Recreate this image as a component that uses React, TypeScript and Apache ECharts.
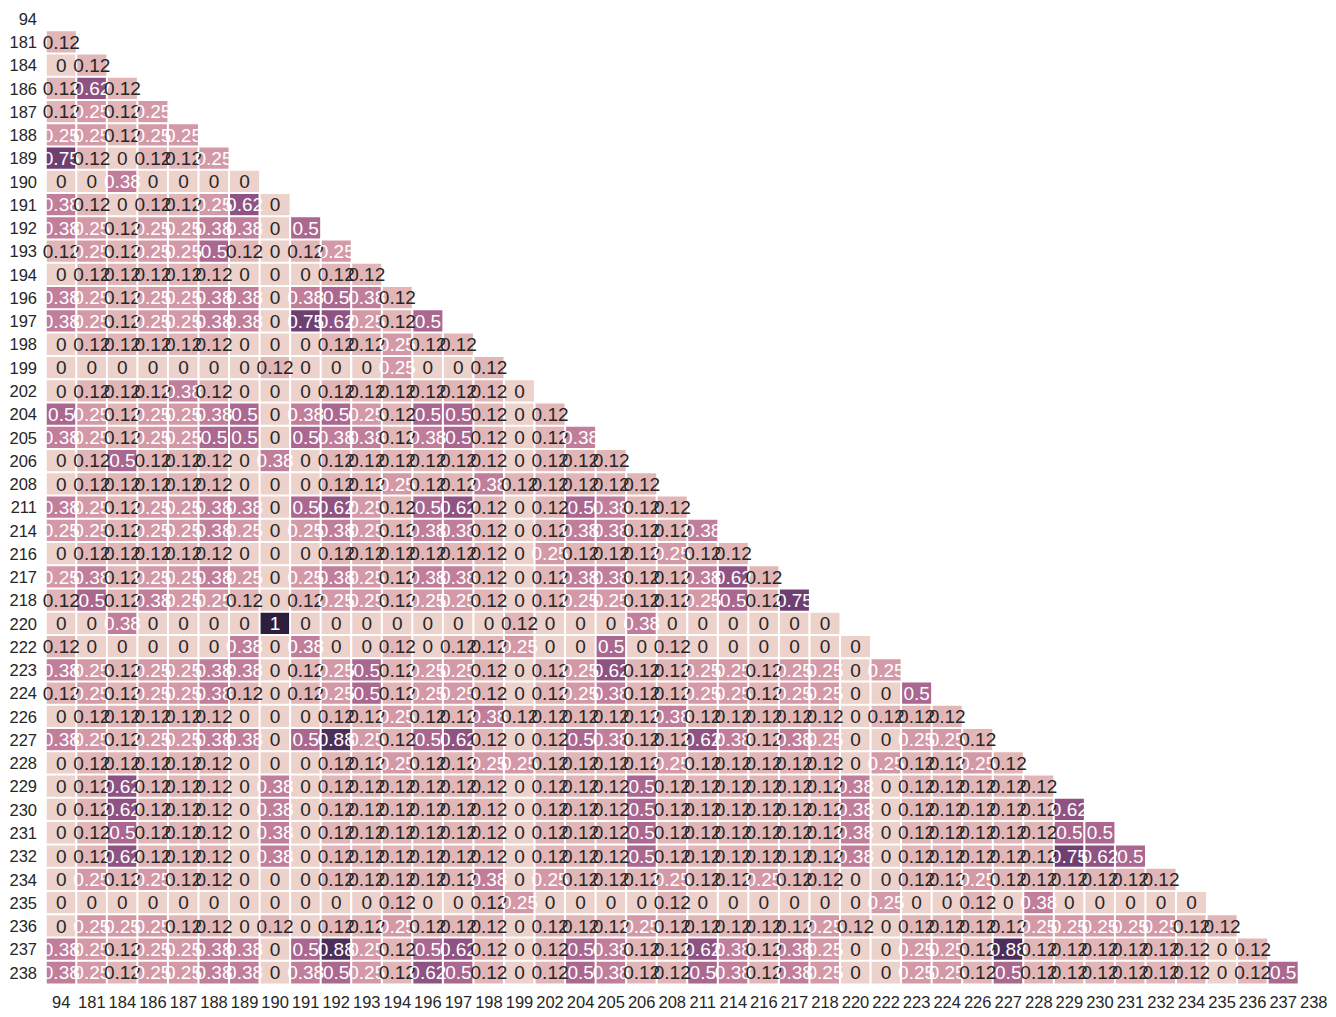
import React, { useEffect, useRef } from "react";
import * as echarts from "echarts";

const labels = [
  "94", "181", "184", "186", "187", "188", "189", "190", "191", "192", "193", "194", "196", "197",
  "198", "199", "202", "204", "205", "206", "208", "211", "214", "216", "217", "218", "220", "222",
  "223", "224", "226", "227", "228", "229", "230", "231", "232", "234", "235", "236", "237", "238",
];

// lower triangle: row i holds the values for columns 0..i-1
const lowerTriangle: number[][] = [
  [],
  [0.12],
  [0, 0.12],
  [0.12, 0.62, 0.12],
  [0.12, 0.25, 0.12, 0.25],
  [0.25, 0.25, 0.12, 0.25, 0.25],
  [0.75, 0.12, 0, 0.12, 0.12, 0.25],
  [0, 0, 0.38, 0, 0, 0, 0],
  [0.38, 0.12, 0, 0.12, 0.12, 0.25, 0.62, 0],
  [0.38, 0.25, 0.12, 0.25, 0.25, 0.38, 0.38, 0, 0.5],
  [0.12, 0.25, 0.12, 0.25, 0.25, 0.5, 0.12, 0, 0.12, 0.25],
  [0, 0.12, 0.12, 0.12, 0.12, 0.12, 0, 0, 0, 0.12, 0.12],
  [0.38, 0.25, 0.12, 0.25, 0.25, 0.38, 0.38, 0, 0.38, 0.5, 0.38, 0.12],
  [0.38, 0.25, 0.12, 0.25, 0.25, 0.38, 0.38, 0, 0.75, 0.62, 0.25, 0.12, 0.5],
  [0, 0.12, 0.12, 0.12, 0.12, 0.12, 0, 0, 0, 0.12, 0.12, 0.25, 0.12, 0.12],
  [0, 0, 0, 0, 0, 0, 0, 0.12, 0, 0, 0, 0.25, 0, 0, 0.12],
  [0, 0.12, 0.12, 0.12, 0.38, 0.12, 0, 0, 0, 0.12, 0.12, 0.12, 0.12, 0.12, 0.12, 0],
  [0.5, 0.25, 0.12, 0.25, 0.25, 0.38, 0.5, 0, 0.38, 0.5, 0.25, 0.12, 0.5, 0.5, 0.12, 0, 0.12],
  [0.38, 0.25, 0.12, 0.25, 0.25, 0.5, 0.5, 0, 0.5, 0.38, 0.38, 0.12, 0.38, 0.5, 0.12, 0, 0.12, 0.38],
  [0, 0.12, 0.5, 0.12, 0.12, 0.12, 0, 0.38, 0, 0.12, 0.12, 0.12, 0.12, 0.12, 0.12, 0, 0.12, 0.12, 0.12],
  [0, 0.12, 0.12, 0.12, 0.12, 0.12, 0, 0, 0, 0.12, 0.12, 0.25, 0.12, 0.12, 0.38, 0.12, 0.12, 0.12, 0.12, 0.12],
  [0.38, 0.25, 0.12, 0.25, 0.25, 0.38, 0.38, 0, 0.5, 0.62, 0.25, 0.12, 0.5, 0.62, 0.12, 0, 0.12, 0.5, 0.38, 0.12, 0.12],
  [0.25, 0.25, 0.12, 0.25, 0.25, 0.38, 0.25, 0, 0.25, 0.38, 0.25, 0.12, 0.38, 0.38, 0.12, 0, 0.12, 0.38, 0.38, 0.12, 0.12, 0.38],
  [0, 0.12, 0.12, 0.12, 0.12, 0.12, 0, 0, 0, 0.12, 0.12, 0.12, 0.12, 0.12, 0.12, 0, 0.25, 0.12, 0.12, 0.12, 0.25, 0.12, 0.12],
  [0.25, 0.38, 0.12, 0.25, 0.25, 0.38, 0.25, 0, 0.25, 0.38, 0.25, 0.12, 0.38, 0.38, 0.12, 0, 0.12, 0.38, 0.38, 0.12, 0.12, 0.38, 0.62, 0.12],
  [0.12, 0.5, 0.12, 0.38, 0.25, 0.25, 0.12, 0, 0.12, 0.25, 0.25, 0.12, 0.25, 0.25, 0.12, 0, 0.12, 0.25, 0.25, 0.12, 0.12, 0.25, 0.5, 0.12, 0.75],
  [0, 0, 0.38, 0, 0, 0, 0, 1, 0, 0, 0, 0, 0, 0, 0, 0.12, 0, 0, 0, 0.38, 0, 0, 0, 0, 0, 0],
  [0.12, 0, 0, 0, 0, 0, 0.38, 0, 0.38, 0, 0, 0.12, 0, 0.12, 0.12, 0.25, 0, 0, 0.5, 0, 0.12, 0, 0, 0, 0, 0, 0],
  [0.38, 0.25, 0.12, 0.25, 0.25, 0.38, 0.38, 0, 0.12, 0.25, 0.5, 0.12, 0.25, 0.25, 0.12, 0, 0.12, 0.25, 0.62, 0.12, 0.12, 0.25, 0.25, 0.12, 0.25, 0.25, 0, 0.25],
  [0.12, 0.25, 0.12, 0.25, 0.25, 0.38, 0.12, 0, 0.12, 0.25, 0.5, 0.12, 0.25, 0.25, 0.12, 0, 0.12, 0.25, 0.38, 0.12, 0.12, 0.25, 0.25, 0.12, 0.25, 0.25, 0, 0, 0.5],
  [0, 0.12, 0.12, 0.12, 0.12, 0.12, 0, 0, 0, 0.12, 0.12, 0.25, 0.12, 0.12, 0.38, 0.12, 0.12, 0.12, 0.12, 0.12, 0.38, 0.12, 0.12, 0.12, 0.12, 0.12, 0, 0.12, 0.12, 0.12],
  [0.38, 0.25, 0.12, 0.25, 0.25, 0.38, 0.38, 0, 0.5, 0.88, 0.25, 0.12, 0.5, 0.62, 0.12, 0, 0.12, 0.5, 0.38, 0.12, 0.12, 0.62, 0.38, 0.12, 0.38, 0.25, 0, 0, 0.25, 0.25, 0.12],
  [0, 0.12, 0.12, 0.12, 0.12, 0.12, 0, 0, 0, 0.12, 0.12, 0.25, 0.12, 0.12, 0.25, 0.25, 0.12, 0.12, 0.12, 0.12, 0.25, 0.12, 0.12, 0.12, 0.12, 0.12, 0, 0.25, 0.12, 0.12, 0.25, 0.12],
  [0, 0.12, 0.62, 0.12, 0.12, 0.12, 0, 0.38, 0, 0.12, 0.12, 0.12, 0.12, 0.12, 0.12, 0, 0.12, 0.12, 0.12, 0.5, 0.12, 0.12, 0.12, 0.12, 0.12, 0.12, 0.38, 0, 0.12, 0.12, 0.12, 0.12, 0.12],
  [0, 0.12, 0.62, 0.12, 0.12, 0.12, 0, 0.38, 0, 0.12, 0.12, 0.12, 0.12, 0.12, 0.12, 0, 0.12, 0.12, 0.12, 0.5, 0.12, 0.12, 0.12, 0.12, 0.12, 0.12, 0.38, 0, 0.12, 0.12, 0.12, 0.12, 0.12, 0.62],
  [0, 0.12, 0.5, 0.12, 0.12, 0.12, 0, 0.38, 0, 0.12, 0.12, 0.12, 0.12, 0.12, 0.12, 0, 0.12, 0.12, 0.12, 0.5, 0.12, 0.12, 0.12, 0.12, 0.12, 0.12, 0.38, 0, 0.12, 0.12, 0.12, 0.12, 0.12, 0.5, 0.5],
  [0, 0.12, 0.62, 0.12, 0.12, 0.12, 0, 0.38, 0, 0.12, 0.12, 0.12, 0.12, 0.12, 0.12, 0, 0.12, 0.12, 0.12, 0.5, 0.12, 0.12, 0.12, 0.12, 0.12, 0.12, 0.38, 0, 0.12, 0.12, 0.12, 0.12, 0.12, 0.75, 0.62, 0.5],
  [0, 0.25, 0.12, 0.25, 0.12, 0.12, 0, 0, 0, 0.12, 0.12, 0.12, 0.12, 0.12, 0.38, 0, 0.25, 0.12, 0.12, 0.12, 0.25, 0.12, 0.12, 0.25, 0.12, 0.12, 0, 0, 0.12, 0.12, 0.25, 0.12, 0.12, 0.12, 0.12, 0.12, 0.12],
  [0, 0, 0, 0, 0, 0, 0, 0, 0, 0, 0, 0.12, 0, 0, 0.12, 0.25, 0, 0, 0, 0, 0.12, 0, 0, 0, 0, 0, 0, 0.25, 0, 0, 0.12, 0, 0.38, 0, 0, 0, 0, 0],
  [0, 0.25, 0.25, 0.25, 0.12, 0.12, 0, 0.12, 0, 0.12, 0.12, 0.25, 0.12, 0.12, 0.12, 0, 0.12, 0.12, 0.12, 0.25, 0.12, 0.12, 0.12, 0.12, 0.12, 0.25, 0.12, 0, 0.12, 0.12, 0.12, 0.12, 0.25, 0.25, 0.25, 0.25, 0.25, 0.12, 0.12],
  [0.38, 0.25, 0.12, 0.25, 0.25, 0.38, 0.38, 0, 0.5, 0.88, 0.25, 0.12, 0.5, 0.62, 0.12, 0, 0.12, 0.5, 0.38, 0.12, 0.12, 0.62, 0.38, 0.12, 0.38, 0.25, 0, 0, 0.25, 0.25, 0.12, 0.88, 0.12, 0.12, 0.12, 0.12, 0.12, 0.12, 0, 0.12],
  [0.38, 0.25, 0.12, 0.25, 0.25, 0.38, 0.38, 0, 0.38, 0.5, 0.25, 0.12, 0.62, 0.5, 0.12, 0, 0.12, 0.5, 0.38, 0.12, 0.12, 0.5, 0.38, 0.12, 0.38, 0.25, 0, 0, 0.25, 0.25, 0.12, 0.5, 0.12, 0.12, 0.12, 0.12, 0.12, 0.12, 0, 0.12, 0.5],
];

// seaborn default cubehelix colormap (start=0, rot=0.4, hue=0.8, light=0.85, dark=0.15)
function cubehelixColor(t: number): string {
  const x = 0.85 - 0.7 * t;
  const a = (0.8 * x * (1 - x)) / 2;
  const phi = 2 * Math.PI * (0.4 * x);
  const c = Math.cos(phi);
  const s = Math.sin(phi);
  const ch = (v: number) => Math.round(Math.min(1, Math.max(0, v)) * 255);
  const r = ch(x + a * (-0.14861 * c + 1.78277 * s));
  const g = ch(x + a * (-0.29227 * c - 0.90649 * s));
  const b = ch(x + a * (1.97294 * c));
  return `rgb(${r},${g},${b})`;
}

const colorStops: string[] = [];
for (let k = 0; k <= 16; k++) colorStops.push(cubehelixColor(k / 16));

const FONT = "'Liberation Sans', Arial, Helvetica, sans-serif";

export default function App() {
  const ref = useRef<HTMLDivElement>(null);
  useEffect(() => {
    if (!ref.current) return;
    const chart = echarts.init(ref.current, undefined, { renderer: "svg" });
    const data: any[] = [];
    lowerTriangle.forEach((row, i) => {
      row.forEach((v, j) => {
        data.push({
          value: [j, i, v],
          label: { color: v >= 0.25 ? "#ffffff" : "#262626" },
        });
      });
    });
    chart.setOption({
      animation: false,
      backgroundColor: "#ffffff",
      grid: { left: 46, top: 7.2, width: 1283, height: 977, containLabel: false },
      xAxis: {
        type: "category",
        data: labels,
        axisLine: { show: false },
        axisTick: { show: false },
        splitLine: { show: false },
        splitArea: { show: false },
        axisLabel: { interval: 0, fontSize: 16.5, color: "#262626", fontFamily: FONT, margin: 9 },
      },
      yAxis: {
        type: "category",
        data: labels,
        inverse: true,
        axisLine: { show: false },
        axisTick: { show: false },
        splitLine: { show: false },
        splitArea: { show: false },
        axisLabel: { interval: 0, fontSize: 16.5, color: "#262626", fontFamily: FONT, margin: 9 },
      },
      visualMap: {
        show: false,
        type: "continuous",
        min: 0,
        max: 1,
        dimension: 2,
        inRange: { color: colorStops },
      },
      series: [
        {
          type: "heatmap",
          data,
          itemStyle: { borderColor: "#ffffff", borderWidth: 2 },
          label: {
            show: true,
            fontSize: 19,
            fontFamily: FONT,
            formatter: (p: any) => String(p.value[2]),
          },
          emphasis: { disabled: true },
        },
      ],
    });
    return () => chart.dispose();
  }, []);
  return (
    <div
      ref={ref}
      style={{ position: "fixed", left: 0, top: 0, width: 1336, height: 1017, background: "#fff" }}
    />
  );
}
